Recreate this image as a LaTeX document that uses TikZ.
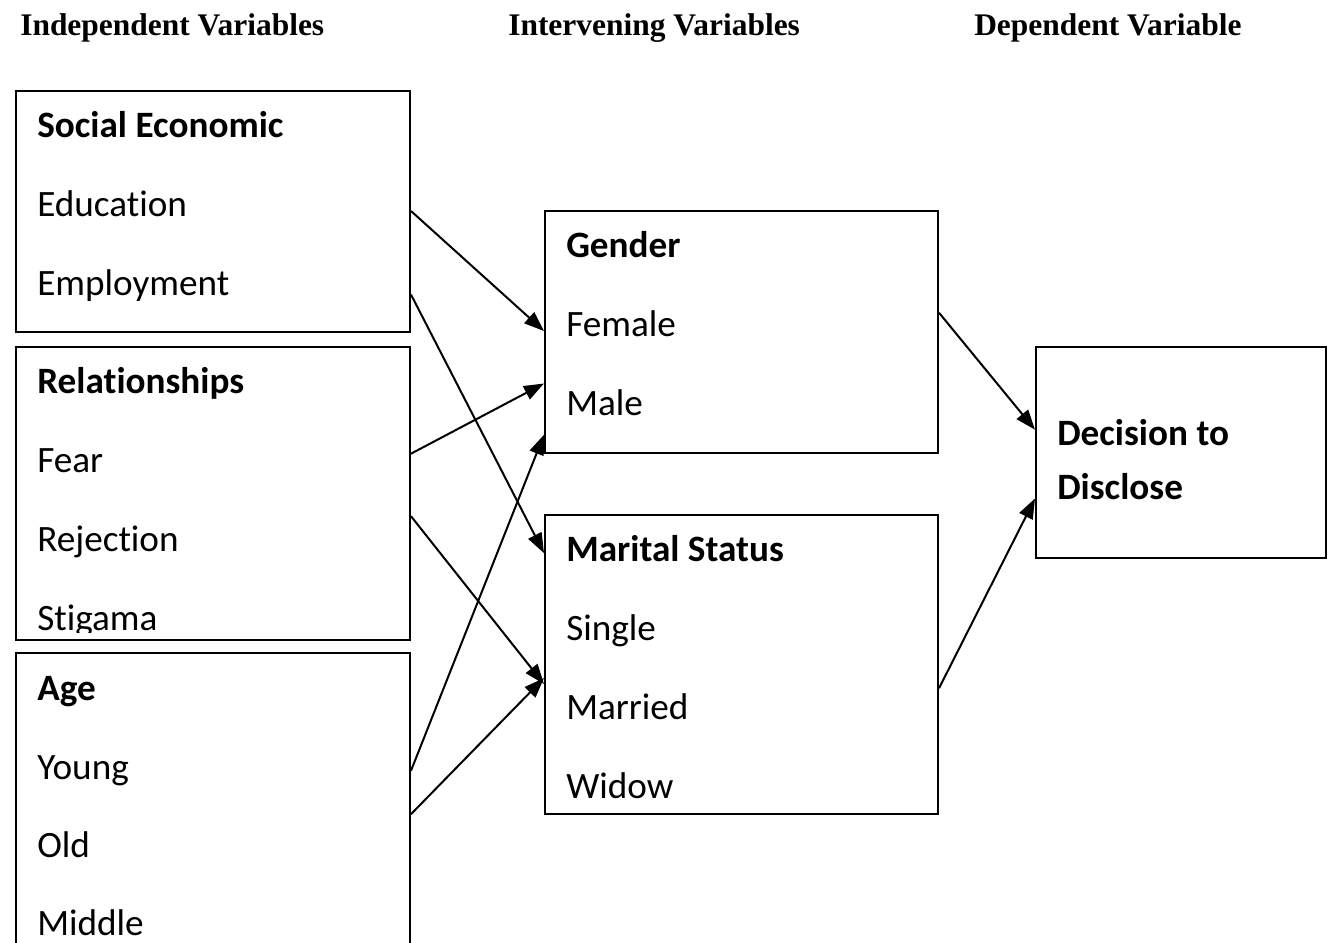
\documentclass[tikz,border=0pt]{standalone}
\usepackage{fontspec}
\setmainfont{Carlito}[Ligatures=NoCommon]
\newfontfamily\hdrfont{Liberation Serif}
\usetikzlibrary{arrows.meta,calc}
\tikzset{
  box/.style={draw=black, line width=1.5pt, anchor=north west, inner sep=0pt, fill=none},
  txt/.style={anchor=base west, inner sep=0pt, font=\fontsize{27.9}{30}\selectfont},
  btxt/.style={txt, font=\fontsize{27.9}{30}\selectfont\bfseries},
  hdr/.style={anchor=base west, inner sep=0pt, font=\hdrfont\fontsize{23.6}{26}\selectfont\bfseries},
  arr/.style={line width=1.5pt, -{Triangle[length=15pt,width=11pt]}},
}
\begin{document}
\begin{tikzpicture}[x=0.75pt,y=-0.75pt]
\useasboundingbox (0,0) rectangle (1329,943);
\clip (0,0) rectangle (1329,943);
% headers
\node[hdr] (h1) at (20,35) {Independent Variables};
\node[hdr] (h2) at (508,35) {Intervening Variables};
\node[hdr] (h3) at (974,35) {Dependent Variable};
% boxes
\node[box, minimum width=295.5pt, minimum height=180.75pt] (se) at (15,90) {};
\node[box, minimum width=295.5pt, minimum height=219.75pt] (rel) at (15,346) {};
\node[box, minimum width=295.5pt, minimum height=225pt] (age) at (15,652) {};
\node[box, minimum width=294.75pt, minimum height=181.5pt] (gen) at (544,210) {};
\node[box, minimum width=294.75pt, minimum height=224.25pt] (mar) at (544,514) {};
\node[box, minimum width=217.5pt, minimum height=158.25pt] (dec) at (1035,346) {};
% social economic
\node[btxt] (t1) at (37,137) {Social Economic};
\node[txt] (t2) at (37,216) {Education};
\node[txt] (t3) at (37,295) {Employment};
% relationships (text clipped inside box)
\begin{scope}
\clip (15,346) rectangle (409,632);
\node[btxt] (t4) at (37,393) {Relationships};
\node[txt] (t5) at (37,472) {Fear};
\node[txt] (t6) at (37,551) {Rejection};
\node[txt] (t7) at (37,630) {Stigama};
\end{scope}
% age
\node[btxt] (t8) at (37,700) {Age};
\node[txt] (t9) at (37,779) {Young};
\node[txt] (t10) at (37,857) {Old};
\node[txt] (t11) at (37,935) {Middle};
% gender
\node[btxt] (t12) at (566,257) {Gender};
\node[txt] (t13) at (566,336) {Female};
\node[txt] (t14) at (566,415) {Male};
% marital
\node[btxt] (t15) at (566,561) {Marital Status};
\node[txt] (t16) at (566,640) {Single};
\node[txt] (t17) at (566,719) {Married};
\node[txt] (t18) at (566,798) {Widow};
% decision
\node[btxt] (t19) at (1057,445) {Decision to};
\node[btxt] (t20) at (1057,499) {Disclose};
% arrows
\draw[arr] ($(se.north east)!0.498!(se.south east)$) -- ($(gen.north west)!0.496!(gen.south west)$);
\draw[arr] ($(se.north east)!0.842!(se.south east)$) -- ($(mar.north west)!0.130!(mar.south west)$);
\draw[arr] ($(rel.north east)!0.365!(rel.south east)$) -- ($(gen.north west)!0.711!(gen.south west)$);
\draw[arr] ($(rel.north east)!0.577!(rel.south east)$) -- ($(mar.north west)!0.565!(mar.south west)$);
\draw[arr] ($(age.north east)!0.393!(age.south east)$) -- ($(gen.north west)!0.921!(gen.south west)$);
\draw[arr] ($(age.north east)!0.537!(age.south east)$) -- ($(mar.north west)!0.545!(mar.south west)$);
\draw[arr] ($(gen.north east)!0.421!(gen.south east)$) -- ($(dec.north west)!0.393!(dec.south west)$);
\draw[arr] ($(mar.north east)!0.579!(mar.south east)$) -- ($(dec.north west)!0.716!(dec.south west)$);
\end{tikzpicture}
\end{document}
